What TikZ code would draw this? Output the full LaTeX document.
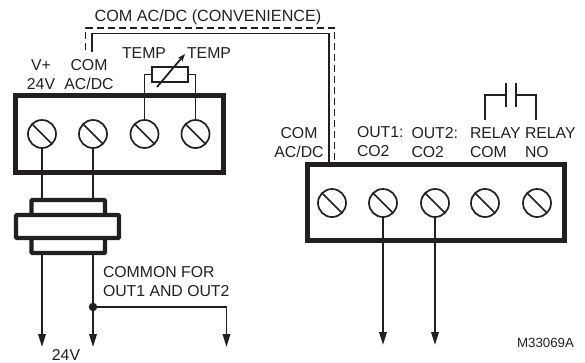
\documentclass[tikz,border=0pt]{standalone}
\usepackage{fontspec}
\setmainfont{Liberation Sans}
\usetikzlibrary{arrows.meta,positioning}
\definecolor{ink}{HTML}{231F20}

\begin{document}
\begin{tikzpicture}[x=1pt,y=-1pt,>={Triangle[length=13pt,width=7.5pt]},color=ink,text=ink,
    font=\fontsize{15.8}{19}\selectfont,line width=1.8pt]

    % Define node styles
    \tikzstyle{label} = [inner sep=0pt, outer sep=0pt, align=center, text depth=0pt]
    \tikzstyle{leftlabel} = [label, anchor=west, align=left]
    \tikzstyle{terminal} = [draw, rectangle, line width=4.6pt, inner sep=0pt, outer sep=0pt]
    \tikzstyle{screw} = [draw, circle, line width=1.7pt, minimum size=28pt, inner sep=0pt, outer sep=0pt,
        path picture={\draw [line width=1.7pt] (path picture bounding box.north west) -- (path picture bounding box.south east);}]
    \tikzstyle{choke} = [draw, rectangle, rounded corners=1pt, line width=4.4pt, inner sep=0pt, outer sep=0pt, fill=white]
    \tikzstyle{link} = [dashed, dash pattern=on 7pt off 4pt]
    \tikzstyle{dot} = [fill, circle, minimum size=8.5pt, inner sep=0pt, outer sep=0pt]

    \useasboundingbox (0,0) rectangle (585,362);

    % Draw terminal blocks
    \node [terminal, minimum width=208pt, minimum height=77pt] (leftblock) at (119.5,134) {};
    \node [terminal, minimum width=257.5pt, minimum height=76.5pt] (rightblock) at (436,202.5) {};

    % Draw screws
    \node [screw] (vplus) at (42,134) {};
    \node [screw, right=23pt of vplus] (comleft) {};
    \node [screw, right=23.5pt of comleft] (tempa) {};
    \node [screw, right=23pt of tempa] (tempb) {};
    \node [screw] (comright) at (332,203) {};
    \node [screw, right=23pt of comright] (outa) {};
    \node [screw, right=24pt of outa] (outb) {};
    \node [screw, right=22pt of outb] (relaycom) {};
    \node [screw, right=24pt of relaycom] (relayno) {};

    % Draw choke
    \node [choke, minimum width=73.5pt, minimum height=53pt] (chokeinner) at (68.2,226.5) {};
    \node [choke, minimum width=103pt, minimum height=23pt] (chokeouter) at (67.5,226.5) {};

    % Draw sensor and contact
    \node [draw, rectangle, line width=2pt, minimum width=35.5pt, minimum height=15pt, inner sep=0pt, outer sep=0pt] (sensor) at (170.2,74.5) {};
    \coordinate (arrowa) at (157,87);
    \coordinate (arrowb) at (185,54);
    \coordinate (contacta) at (506,83);
    \coordinate (contactb) at (506,107);
    \coordinate (contactc) at (515.7,83);
    \coordinate (contactd) at (515.7,107);
    \coordinate (relayl) at (484.7,120);
    \coordinate (relayr) at (535.7,120);

    % Draw text
    \node [label] (vlabel) at (41,74.5) {V+\\24V};
    \node [label] (comlabel) at (89,74.5) {COM\\AC/DC};
    \node [label] (tempalabel) at (144,53) {TEMP};
    \node [label] (tempblabel) at (209,53) {TEMP};
    \node [label, font=\fontsize{16.2}{19}\selectfont] (convlabel) at (208,15.5) {COM AC/DC (CONVENIENCE)};
    \node [label] (comrlabel) at (299,142) {COM\\AC/DC};
    \node [leftlabel] (outalabel) at (357,141.5) {OUT1:\\CO2};
    \node [leftlabel] (outblabel) at (411.5,142.5) {OUT2:\\CO2};
    \node [leftlabel] (relayalabel) at (470,142.5) {RELAY\\COM};
    \node [leftlabel] (relayblabel) at (525,142.5) {RELAY\\NO};
    \node [leftlabel] (commonlabel) at (103,281.5) {COMMON FOR\\OUT1 AND OUT2};
    \node [label] (vvlabel) at (66,354.5) {24V};
    \node [label, anchor=east, font=\fontsize{13.3}{16}\selectfont] (partlabel) at (574,343) {M33069A};

    % Draw free ends
    \coordinate (comtop) at (92,52);
    \coordinate (dashtop) at (85.5,50);
    \coordinate (vend) at (42,347);
    \coordinate (comend) at (93,347);
    \coordinate (sharedend) at (226.5,347);
    \node [dot] (junction) at (93,307) {};
    \coordinate (outaend) at (383,345);
    \coordinate (outbend) at (435,345);

    % Draw wires
    \draw (comtop) -- (92,33.5) -- (329,33.5) -- (329,162);
    \draw [link] (dashtop) -- (85.5,28) -- (334.5,28) -- (334.5,162);
    \draw (vplus.south) -- (vplus.south |- chokeinner.north);
    \draw (comleft.south) -- (comleft.south |- chokeinner.north);
    \draw [->] (vplus.south |- chokeinner.south) -- (vend);
    \draw [->] (comleft.south |- chokeinner.south) -- (comend);
    \draw [->] (junction.center) -| (sharedend);
    \draw [->] (outa.south) -- (outaend);
    \draw [->] (outb.south) -- (outbend);

    % Draw sensor wires
    \draw (tempa.north) |- (sensor.west);
    \draw (tempb.north) |- (sensor.east);
    \draw [->, >={Stealth[length=8pt,width=6pt]}] (arrowa) -- (arrowb);

    % Draw contact
    \draw (relayl) |- (contacta |- 0,95);
    \draw (relayr) |- (contactc |- 0,95);
    \draw (contacta) -- (contactb);
    \draw (contactc) -- (contactd);

\end{tikzpicture}
\end{document}
